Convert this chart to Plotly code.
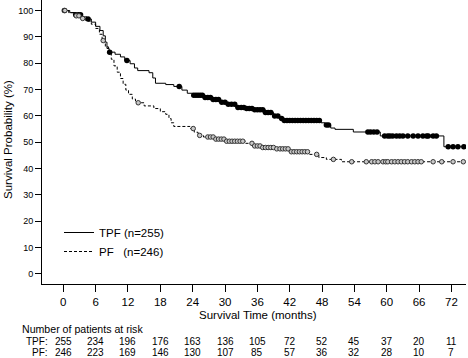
import numpy as np
import plotly.graph_objects as go

# ---- Kaplan-Meier step data ----
tpf_time = [0, 1.2, 2.2, 3.5, 4.4, 5.2, 6.0, 6.8, 7.4, 7.8, 8.1, 8.5, 9.6, 10.6, 11.4, 12.4,
            13.2, 13.8, 15.9, 16.6, 17.1, 19.0, 20.5, 22.0, 23.0, 24.0, 26.0, 27.5, 29.0,
            30.5, 32.0, 34.0, 35.5, 37.5, 39.0, 40.0, 41.0, 47.8, 48.6, 49.6, 50.4, 53.8,
            58.8, 70.6]
tpf_surv = [100, 99.2, 98.4, 97.6, 96.8, 95.6, 94.0, 92.4, 90.4, 88.0, 85.6, 84.2, 83.4,
            82.4, 81.0, 79.8, 78.2, 77.2, 76.4, 74.4, 72.4, 71.9, 71.2, 69.8, 68.6, 67.8,
            67.0, 66.2, 65.2, 64.4, 63.2, 62.8, 62.3, 61.3, 60.0, 59.0, 58.3, 57.4, 56.6,
            55.4, 54.9, 53.9, 52.4, 48.3]
tpf_end = 74.5
tpf_censor = [0.2, 2.3, 2.8, 3.2, 4.6, 8.6, 11.8, 21.5,
              24.2, 24.6, 25.0, 25.4, 25.8, 26.3, 26.8, 27.3, 27.8, 28.3, 28.8, 29.4, 30.0,
              30.6, 31.2, 31.8, 32.4, 33.0, 33.5, 34.0, 34.5, 35.0, 35.5, 36.0, 36.5, 37.0,
              37.5, 38.0, 38.5, 39.2, 39.8, 40.5, 41.0, 41.5, 42.0, 42.5, 43.0, 43.5, 44.0,
              44.5, 45.0, 45.5, 46.0, 46.5, 47.0, 47.5, 48.8, 49.2,
              56.5, 57.0, 57.6, 58.2,
              59.6, 60.2, 60.6, 61.1, 61.8, 62.4, 63.0, 63.9, 64.9, 65.8, 66.7, 67.4, 67.7,
              68.6, 69.2, 71.4, 72.3, 73.2, 74.3]

pf_time = [0, 1.0, 2.0, 3.2, 4.2, 5.2, 6.0, 6.7, 7.2, 7.8, 8.4, 8.9, 9.4, 10.0, 10.6, 11.1,
           11.6, 12.1, 12.8, 13.4, 15.0, 16.8, 18.0, 19.0, 19.6, 20.0, 20.5, 23.5, 24.3,
           25.0, 26.0, 28.0, 30.0, 33.8, 35.5, 37.0, 39.5, 41.9, 45.5, 47.4, 48.8, 51.6]
pf_surv = [100, 99.2, 98.0, 97.0, 96.0, 94.8, 93.2, 91.0, 88.6, 86.2, 84.0, 81.5, 79.0,
           76.6, 74.2, 72.0, 69.8, 68.2, 66.4, 65.0, 63.8, 62.8, 61.6, 60.6, 59.0, 57.4,
           56.0, 55.2, 53.8, 52.6, 52.0, 51.2, 50.4, 49.6, 48.6, 48.0, 47.5, 46.4, 45.4,
           44.2, 43.5, 42.6]
pf_end = 74.5
pf_censor = [0.3, 2.4, 2.9, 3.6, 7.4, 13.9, 24.1, 25.3,
             26.8, 27.3, 27.8, 28.3, 28.8, 29.3, 29.8, 30.3, 30.8, 31.3, 31.8, 32.3, 32.8,
             33.3, 35.0, 35.5, 36.0, 36.5, 37.0, 37.5, 38.0, 38.5, 39.0, 39.6, 40.2, 40.7,
             41.2, 41.7, 42.3, 42.8, 43.3, 43.8, 44.3, 44.8, 45.3, 47.0, 50.1, 53.5, 56.2,
             57.2, 57.8, 58.4, 59.3, 59.8, 60.2, 60.9, 61.5, 62.1, 62.7, 63.3, 63.9, 64.6,
             65.2, 65.8, 66.4, 68.6, 70.2, 72.3, 74.2]

# ---- risk table ----
risk_times = [0, 6, 12, 18, 24, 30, 36, 42, 48, 54, 60, 66, 72]
risk_tpf = [255, 234, 196, 176, 163, 136, 105, 72, 52, 45, 37, 20, 11]
risk_pf = [246, 223, 169, 146, 130, 107, 85, 57, 36, 32, 28, 10, 7]

x_ticks = list(range(0, 73, 6))
y_ticks = list(range(0, 101, 10))

legend_tpf = "TPF (n=255)"
legend_pf = "PF\u00a0\u00a0\u00a0(n=246)"
x_title = "Survival Time (months)"
y_title = "Survival Probability (%)"


def step_lookup(times, surv, t):
    idx = np.searchsorted(np.array(times), np.array(t), side="right") - 1
    return list(np.array(surv)[idx])


FONT = "Liberation Sans, Arial, sans-serif"
fig = go.Figure()

# curves
fig.add_trace(go.Scatter(x=tpf_time + [tpf_end], y=tpf_surv + [tpf_surv[-1]],
                         mode="lines", line=dict(color="black", width=1, shape="hv"),
                         showlegend=False, hoverinfo="skip"))
fig.add_trace(go.Scatter(x=pf_time + [pf_end], y=pf_surv + [pf_surv[-1]],
                         mode="lines", line=dict(color="black", width=1, shape="hv", dash="3px,2px"),
                         showlegend=False, hoverinfo="skip"))
# censor marks
fig.add_trace(go.Scatter(x=tpf_censor, y=step_lookup(tpf_time, tpf_surv, tpf_censor),
                         mode="markers", marker=dict(symbol="circle", size=5.5, color="black"),
                         showlegend=False))
fig.add_trace(go.Scatter(x=pf_censor, y=step_lookup(pf_time, pf_surv, pf_censor),
                         mode="markers",
                         marker=dict(symbol="circle", size=4.5, color="#c8c8c8",
                                     line=dict(color="#333333", width=1)),
                         showlegend=False))
# legend entries
fig.add_trace(go.Scatter(x=[None], y=[None], mode="lines", name=legend_tpf,
                         line=dict(color="black", width=1)))
fig.add_trace(go.Scatter(x=[None], y=[None], mode="lines", name=legend_pf,
                         line=dict(color="black", width=1, dash="3px,2px")))

L, R, PW, PH = 42, 2, 424.0, 284.0


def ypaper(px):
    return (PH - px) / PH


def xpaper(px):
    return (px - L) / PW


f10 = dict(size=10, family=FONT, color="black")
ann = []
ann.append(dict(text="Number of patients at risk", xref="paper", yref="paper",
                x=xpaper(19.5), y=ypaper(328.5), xanchor="left", yanchor="middle",
                showarrow=False, font=dict(size=10.6, family=FONT, color="black")))
ann.append(dict(text="TPF:", xref="paper", yref="paper", x=xpaper(50),
                y=ypaper(341), xanchor="right", yanchor="middle", showarrow=False, font=f10))
ann.append(dict(text="PF:", xref="paper", yref="paper", x=xpaper(50),
                y=ypaper(352.5), xanchor="right", yanchor="middle", showarrow=False, font=f10))
for t, a, b in zip(risk_times, risk_tpf, risk_pf):
    ann.append(dict(text=str(a), xref="x", yref="paper", x=t, y=ypaper(341),
                    xanchor="center", yanchor="middle", showarrow=False, font=f10))
    ann.append(dict(text=str(b), xref="x", yref="paper", x=t, y=ypaper(352.5),
                    xanchor="center", yanchor="middle", showarrow=False, font=f10))
# axis titles
ann.append(dict(text=x_title, xref="paper", yref="paper", x=xpaper(258), y=ypaper(315),
                xanchor="center", yanchor="middle", showarrow=False,
                font=dict(size=11.5, family=FONT, color="black")))
ann.append(dict(text=y_title, xref="paper", yref="paper", x=xpaper(8), y=ypaper(140),
                xanchor="center", yanchor="middle", textangle=-90, showarrow=False,
                font=dict(size=11.5, family=FONT, color="black")))

fig.update_layout(
    width=468, height=358,
    margin=dict(l=L, r=R, t=0, b=74, autoexpand=False),
    paper_bgcolor="white", plot_bgcolor="white",
    font=dict(family=FONT, color="black"),
    annotations=ann,
    legend=dict(x=xpaper(59), y=ypaper(218), xanchor="left", yanchor="top",
                bgcolor="rgba(0,0,0,0)", font=dict(size=11.5, family=FONT, color="black"),
                tracegroupgap=0),
    xaxis=dict(range=[-3.95, 74.7], tickvals=x_ticks, ticks="outside", ticklen=7,
               tickcolor="black", showline=True, linecolor="black", linewidth=1,
               showgrid=False, zeroline=False, tickfont=dict(size=11.5), automargin=False),
    yaxis=dict(range=[-3.8, 104], tickvals=y_ticks, ticks="outside", ticklen=6,
               tickcolor="black", showline=True, linecolor="black", linewidth=1,
               showgrid=False, zeroline=False, tickfont=dict(size=9), automargin=False),
)

fig.write_html("out.html", config={"displayModeBar": False},
               post_script="document.body.style.margin='0';document.body.style.overflow='hidden';")
